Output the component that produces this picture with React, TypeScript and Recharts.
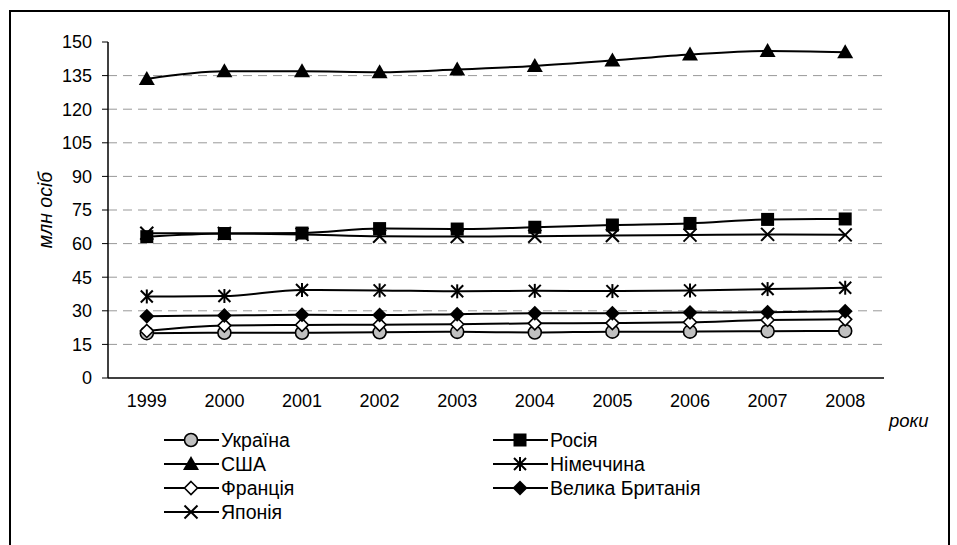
import React from "react";
import {
  Line,
  LineChart,
  ReferenceLine,
  XAxis,
  YAxis,
} from "recharts";

const years = ["1999", "2000", "2001", "2002", "2003", "2004", "2005", "2006", "2007", "2008"];
const ukraine = [20.0, 20.2, 20.2, 20.4, 20.6, 20.3, 20.7, 20.7, 20.9, 21.0];
const russia = [63.1, 64.5, 64.7, 66.7, 66.5, 67.3, 68.3, 69.0, 70.8, 71.0];
const usa = [133.5, 136.9, 136.9, 136.5, 137.7, 139.3, 141.7, 144.4, 146.0, 145.4];
const germany = [36.4, 36.6, 39.3, 39.1, 38.7, 38.9, 38.8, 39.1, 39.7, 40.3];
const france = [21.0, 23.4, 23.7, 23.8, 24.0, 24.4, 24.5, 24.9, 25.9, 26.2];
const britain = [27.6, 27.9, 28.2, 28.1, 28.5, 28.9, 28.9, 29.2, 29.4, 29.8];
const japan = [64.6, 64.5, 64.1, 63.3, 63.2, 63.3, 63.6, 63.8, 64.1, 63.9];

const yTicks = [0, 15, 30, 45, 60, 75, 90, 105, 120, 135, 150];
const gridValues = [15, 30, 45, 60, 75, 90, 105, 120, 135];
const edgeTicks = [0, 1, 2, 3, 4, 5, 6, 7, 8, 9, 10];

const series = [
  { key: "ua", name: "Україна", values: ukraine, marker: "circle" },
  { key: "ru", name: "Росія", values: russia, marker: "square" },
  { key: "us", name: "США", values: usa, marker: "triangle" },
  { key: "de", name: "Німеччина", values: germany, marker: "star" },
  { key: "fr", name: "Франція", values: france, marker: "diamondOpen" },
  { key: "gb", name: "Велика Британія", values: britain, marker: "diamond" },
  { key: "jp", name: "Японія", values: japan, marker: "cross" },
];

const data = years.map((year, i) => {
  const row: Record<string, any> = { year };
  series.forEach((s) => {
    row[s.key] = s.values[i];
  });
  return row;
});

const FONT = "'Liberation Sans', Arial, sans-serif";

const Marker = ({ kind, cx, cy }: { kind: string; cx: number; cy: number }) => {
  if (cx == null || cy == null) return null;
  switch (kind) {
    case "circle":
      return <circle cx={cx} cy={cy} r={6.5} fill="#c0c0c0" stroke="#000" strokeWidth={1.6} />;
    case "square":
      return <rect x={cx - 6.5} y={cy - 6.5} width={13} height={13} fill="#000" />;
    case "triangle":
      return (
        <polygon
          points={`${cx},${cy - 8} ${cx + 8},${cy + 6} ${cx - 8},${cy + 6}`}
          fill="#000"
        />
      );
    case "star":
      return (
        <g stroke="#000" strokeWidth={2}>
          <line x1={cx - 6} y1={cy - 6} x2={cx + 6} y2={cy + 6} />
          <line x1={cx - 6} y1={cy + 6} x2={cx + 6} y2={cy - 6} />
          <line x1={cx} y1={cy - 7} x2={cx} y2={cy + 7} />
        </g>
      );
    case "diamondOpen":
      return (
        <polygon
          points={`${cx},${cy - 6.5} ${cx + 6.5},${cy} ${cx},${cy + 6.5} ${cx - 6.5},${cy}`}
          fill="#fff"
          stroke="#000"
          strokeWidth={1.6}
        />
      );
    case "diamond":
      return (
        <polygon
          points={`${cx},${cy - 7.5} ${cx + 7.5},${cy} ${cx},${cy + 7.5} ${cx - 7.5},${cy}`}
          fill="#000"
        />
      );
    case "cross":
      return (
        <g stroke="#000" strokeWidth={2}>
          <line x1={cx - 6.5} y1={cy - 6.5} x2={cx + 6.5} y2={cy + 6.5} />
          <line x1={cx - 6.5} y1={cy + 6.5} x2={cx + 6.5} y2={cy - 6.5} />
        </g>
      );
    default:
      return null;
  }
};

const LegendItem = ({ name, marker, left, top }) => (
  <div
    style={{
      position: "absolute",
      left,
      top,
      display: "flex",
      alignItems: "center",
      whiteSpace: "nowrap",
    }}
  >
    <svg width={56} height={20}>
      <line x1={0} y1={10} x2={55} y2={10} stroke="#000" strokeWidth={2} />
      <Marker kind={marker} cx={27} cy={10} />
    </svg>
    <span style={{ marginLeft: 1, fontSize: 19.5, color: "#000", lineHeight: "20px" }}>{name}</span>
  </div>
);

const legendSlots = [
  [164, 430],
  [493, 430],
  [164, 454],
  [493, 454],
  [164, 478],
  [493, 478],
  [164, 502],
];

export default function App() {
  return (
    <div
      style={{
        position: "absolute",
        left: 0,
        top: 0,
        width: 957,
        height: 545,
        background: "#fff",
        overflow: "hidden",
        fontFamily: FONT,
      }}
    >
      <div
        style={{
          position: "absolute",
          left: 9,
          top: 10,
          width: 937,
          height: 600,
          border: "2px solid #000",
        }}
      />
      <div style={{ position: "absolute", left: 0, top: 0 }}>
        <LineChart
          width={957}
          height={545}
          data={data}
          margin={{ top: 42, right: 73, bottom: 137, left: 48 }}
          style={{ fontFamily: FONT }}
        >
          <XAxis
            xAxisId="edges"
            type="number"
            domain={[0, 10]}
            ticks={edgeTicks}
            height={0}
            axisLine={false}
            tickLine={{ stroke: "#000" }}
            tickSize={6}
            tickFormatter={() => ""}
          />
          <XAxis
            dataKey="year"
            scale="band"
            height={30}
            axisLine={{ stroke: "#000", strokeWidth: 1.5 }}
            tickLine={false}
            tickMargin={10}
            tick={{ fill: "#000", fontSize: 18 }}
          />
          <YAxis
            domain={[0, 150]}
            ticks={yTicks}
            width={60}
            axisLine={{ stroke: "#000", strokeWidth: 1.5 }}
            tickLine={{ stroke: "#000" }}
            tickSize={6}
            tickMargin={10}
            tick={{ fill: "#000", fontSize: 18 }}
            interval={0}
          />
          {gridValues.map((v) => (
            <ReferenceLine key={v} y={v} stroke="#999" strokeDasharray="9 6" />
          ))}
          {series.map((s) => (
            <Line
              key={s.key}
              dataKey={s.key}
              name={s.name}
              type="monotone"
              stroke="#000"
              strokeWidth={2}
              isAnimationActive={false}
              dot={(p: any) => <Marker key={`${s.key}-${p.index}`} kind={s.marker} cx={p.cx} cy={p.cy} />}
              activeDot={false}
            />
          ))}
        </LineChart>
      </div>
      <div
        style={{
          position: "absolute",
          left: 45,
          top: 210,
          transform: "translate(-50%, -50%) rotate(-90deg)",
          fontStyle: "italic",
          fontSize: 19.5,
          whiteSpace: "nowrap",
        }}
      >
        млн осіб
      </div>
      <div
        style={{
          position: "absolute",
          left: 889,
          top: 410,
          fontStyle: "italic",
          fontSize: 18.5,
        }}
      >
        роки
      </div>
      {series.map((s, i) => (
        <LegendItem
          key={s.key}
          name={s.name}
          marker={s.marker}
          left={legendSlots[i][0]}
          top={legendSlots[i][1]}
        />
      ))}
    </div>
  );
}
